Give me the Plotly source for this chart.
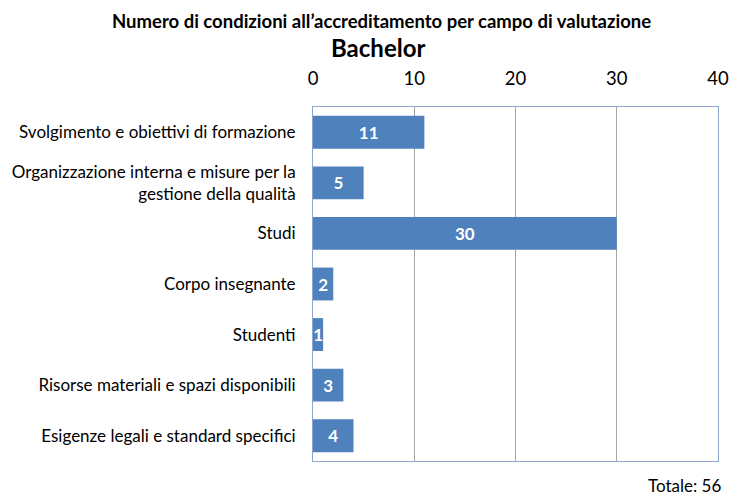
import plotly.graph_objects as go

categories = [
    "Svolgimento e obiettivi di formazione",
    "Organizzazione interna e misure per la<br>gestione della qualità",
    "Studi",
    "Corpo insegnante",
    "Studenti",
    "Risorse materiali e spazi disponibili",
    "Esigenze legali e standard specifici",
]
values = [11, 5, 30, 2, 1, 3, 4]
x_ticks = [0, 10, 20, 30, 40]
total_label = "Totale: 56"
title_line1 = "Numero di condizioni all’accreditamento per campo di valutazione"
title_line2 = "Bachelor"

FONT = "Lato, Carlito, Calibri, sans-serif"
W, H = 729, 495
ML, MR, MT, MB = 313, 11, 107, 34
PW, PH = W - ML - MR, H - MT - MB


def px_to_paper(px_x, px_y):
    return (px_x - ML) / PW, (H - MB - px_y) / PH


fig = go.Figure(
    go.Bar(
        x=values,
        y=categories,
        orientation="h",
        marker=dict(color="#4F81BD", line=dict(width=0)),
        text=[str(v) for v in values],
        textposition="inside",
        insidetextanchor="middle",
        textangle=0,
        textfont=dict(family=FONT, size=17, color="white", weight="bold"),
        constraintext="none",
        width=0.65,
    )
)

t1x, t1y = px_to_paper(381, 21)
t2x, t2y = px_to_paper(378, 47)
tx, ty = px_to_paper(723, 485)

fig.update_layout(
    width=W,
    height=H,
    margin=dict(l=ML, r=MR, t=MT, b=MB, autoexpand=False),
    paper_bgcolor="white",
    plot_bgcolor="white",
    showlegend=False,
    font=dict(family=FONT, color="black"),
    xaxis=dict(
        side="top",
        range=[0, 40],
        tickvals=x_ticks,
        ticktext=[str(t) for t in x_ticks],
        showgrid=True,
        gridcolor="#A6A6A6",
        gridwidth=1,
        zeroline=False,
        showline=True,
        linecolor="#8EA6CC",
        linewidth=1,
        mirror=True,
        ticks="",
        tickfont=dict(family=FONT, size=18.5, color="black"),
        ticklabelstandoff=14,
        automargin=False,
        fixedrange=True,
    ),
    yaxis=dict(
        categoryorder="array",
        categoryarray=categories[::-1],
        autorange=False,
        range=[-0.5, len(categories) - 0.5],
        showgrid=False,
        zeroline=False,
        showline=True,
        linecolor="#8EA6CC",
        linewidth=1,
        mirror=True,
        ticks="",
        tickfont=dict(family=FONT, size=17, color="black"),
        ticklabelstandoff=13,
        automargin=False,
        fixedrange=True,
    ),
    annotations=[
        dict(
            text=title_line1,
            x=t1x, y=t1y, xref="paper", yref="paper",
            xanchor="center", yanchor="middle",
            showarrow=False,
            font=dict(family=FONT, size=18.5, color="black", weight="bold"),
        ),
        dict(
            text=title_line2,
            x=t2x, y=t2y, xref="paper", yref="paper",
            xanchor="center", yanchor="middle",
            showarrow=False,
            font=dict(family=FONT, size=24, color="black", weight="bold"),
        ),
        dict(
            text=total_label,
            x=tx, y=ty, xref="paper", yref="paper",
            xanchor="right", yanchor="middle",
            showarrow=False,
            font=dict(family=FONT, size=17, color="black"),
        ),
    ],
)

fig.write_html(
    "out.html",
    config={"displayModeBar": False},
    post_script="document.body.style.margin='0';document.body.style.padding='0';document.body.style.overflow='hidden';",
)
